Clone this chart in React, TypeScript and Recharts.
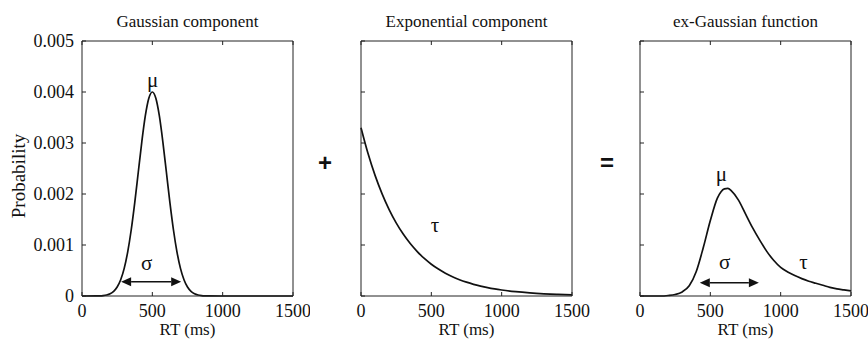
import React from 'react';
import { LineChart, Line, XAxis, YAxis, ReferenceLine, ReferenceDot } from 'recharts';

// ---- data ----
const xTicks = [0, 500, 1000, 1500];
const yTicks = [0, 0.001, 0.002, 0.003, 0.004, 0.005];

const gaussX = [0, 100, 125, 150, 175, 200, 225, 250, 275, 300, 325, 350, 375, 400, 425, 450, 475, 500, 525, 550, 575, 600, 625, 650, 675, 700, 725, 750, 775, 800, 825, 850, 875, 900, 1000, 1500];
const gaussY = [0, 0.0000013, 0.0000035, 0.0000087, 0.0000203, 0.0000444, 0.0000913, 0.000176, 0.000318, 0.000541, 0.000866, 0.001299, 0.001831, 0.002426, 0.003019, 0.00353, 0.003877, 0.004, 0.003877, 0.00353, 0.003019, 0.002426, 0.001831, 0.001299, 0.000866, 0.000541, 0.000318, 0.000176, 0.0000913, 0.0000444, 0.0000203, 0.0000087, 0.0000035, 0.0000013, 0, 0];

const expX = [0, 50, 100, 150, 200, 250, 300, 350, 400, 450, 500, 550, 600, 650, 700, 750, 800, 850, 900, 950, 1000, 1100, 1200, 1300, 1400, 1500];
const expY = [0.0033, 0.002793, 0.002365, 0.002002, 0.001694, 0.001434, 0.001214, 0.001028, 0.00087, 0.000736, 0.000623, 0.000528, 0.000447, 0.000378, 0.00032, 0.000271, 0.000229, 0.000194, 0.000164, 0.000139, 0.000118, 0.0000843, 0.0000604, 0.0000433, 0.000031, 0.0000222];

const exgX = [0, 100, 150, 200, 250, 300, 350, 400, 450, 500, 550, 575, 600, 625, 650, 700, 750, 800, 850, 900, 950, 1000, 1050, 1100, 1150, 1200, 1250, 1300, 1350, 1400, 1450, 1500];
const exgY = [0, 0, 0, 0.00001, 0.00003, 0.00008, 0.0002, 0.00048, 0.00095, 0.00148, 0.00192, 0.00204, 0.0021, 0.00211, 0.00206, 0.00188, 0.00161, 0.00134, 0.0011, 0.00088, 0.0007, 0.00056, 0.00047, 0.0004, 0.00034, 0.00029, 0.00025, 0.00021, 0.00017, 0.00014, 0.00012, 0.0001];

const titles = ['Gaussian component', 'Exponential component', 'ex-Gaussian function'];
const xLabel = 'RT (ms)';
const yLabel = 'Probability';

const toRows = (xs: number[], ys: number[]) => xs.map((x, i) => ({ x, y: ys[i] }));
const gaussData = toRows(gaussX, gaussY);
const expData = toRows(expX, expY);
const exgData = toRows(exgX, exgY);

// ---- styling ----
const INK = '#111';
const BOX = '#222';
const FONT = 'Liberation Serif, Times New Roman, serif';
const FS = 17;
const TICK_FS = 18;

const fmtY = (v: number) => (v === 0 ? '0' : v.toFixed(3));

const BottomTick = (p: any) => (
  <g>
    <line x1={p.x} x2={p.x} y1={p.y} y2={p.y - 4} stroke={BOX} strokeWidth={1} />
    <text x={p.x} y={p.y + 21} textAnchor="middle" fontFamily={FONT} fontSize={TICK_FS} fill={INK}>
      {p.payload.value}
    </text>
  </g>
);
const TopTick = (p: any) => (
  <line x1={p.x} x2={p.x} y1={p.y} y2={p.y + 4} stroke={BOX} strokeWidth={1} />
);
const LeftTickLabeled = (p: any) => (
  <g>
    <line x1={p.x} x2={p.x + 4} y1={p.y} y2={p.y} stroke={BOX} strokeWidth={1} />
    <text x={p.x - 8} y={p.y} dy="0.35em" textAnchor="end" fontFamily={FONT} fontSize={TICK_FS} fill={INK}>
      {fmtY(p.payload.value)}
    </text>
  </g>
);
const LeftTick = (p: any) => (
  <line x1={p.x} x2={p.x + 4} y1={p.y} y2={p.y} stroke={BOX} strokeWidth={1} />
);
const RightTick = (p: any) => (
  <line x1={p.x} x2={p.x - 4} y1={p.y} y2={p.y} stroke={BOX} strokeWidth={1} />
);

const Arrow = (p: any) => {
  const { x1, y1, x2, y2 } = p;
  const h = 10;
  const w = 4.5;
  return (
    <g>
      <line x1={x1 + h} y1={y1} x2={x2 - h} y2={y2} stroke={INK} strokeWidth={1.4} />
      <polygon points={`${x1},${y1} ${x1 + h},${y1 - w} ${x1 + h},${y1 + w}`} fill={INK} />
      <polygon points={`${x2},${y2} ${x2 - h},${y2 - w} ${x2 - h},${y2 + w}`} fill={INK} />
    </g>
  );
};

const symLabel = (value: string) => ({
  value,
  position: 'center' as const,
  fontFamily: FONT,
  fontSize: 21,
  fill: INK,
});

const H = 341;
const AX_W = 40; // left y-axis width
const AX_R = 10; // right y-axis width
const AX_H = 30; // x-axis heights

function Panel(props: {
  left: number;
  width: number;
  plotLeft: number;
  plotRightGap: number;
  data: { x: number; y: number }[];
  title: string;
  labeled: boolean;
  children?: React.ReactNode;
}) {
  const { left, width, plotLeft, plotRightGap, data, title, labeled } = props;
  return (
    <div style={{ position: 'absolute', left, top: 0 }}>
      <LineChart
        width={width}
        height={H}
        data={data}
        margin={{ top: 41 - AX_H, bottom: 45 - AX_H, left: plotLeft - AX_W, right: plotRightGap - AX_R }}
      >
        <XAxis
          dataKey="x"
          type="number"
          domain={[0, 1500]}
          ticks={xTicks}
          height={AX_H}
          tickSize={0}
          tickMargin={0}
          tickLine={false}
          axisLine={{ stroke: BOX, strokeWidth: 1 }}
          tick={BottomTick}
          interval={0}
          label={{ value: xLabel, position: 'bottom', offset: -3, fontFamily: FONT, fontSize: FS, fill: INK }}
        />
        <XAxis
          xAxisId="t"
          orientation="top"
          dataKey="x"
          type="number"
          domain={[0, 1500]}
          ticks={xTicks}
          height={AX_H}
          tickSize={0}
          tickMargin={0}
          tickLine={false}
          axisLine={{ stroke: BOX, strokeWidth: 1 }}
          tick={TopTick}
          interval={0}
          label={{ value: title, position: 'top', offset: -16, fontFamily: FONT, fontSize: FS, fill: INK }}
        />
        <YAxis
          type="number"
          domain={[0, 0.005]}
          ticks={yTicks}
          width={AX_W}
          tickSize={0}
          tickMargin={0}
          tickLine={false}
          axisLine={{ stroke: BOX, strokeWidth: 1 }}
          tick={labeled ? LeftTickLabeled : LeftTick}
          interval={0}
        />
        <YAxis
          yAxisId="r"
          orientation="right"
          type="number"
          domain={[0, 0.005]}
          ticks={yTicks}
          width={AX_R}
          tickSize={0}
          tickMargin={0}
          tickLine={false}
          axisLine={{ stroke: BOX, strokeWidth: 1 }}
          tick={RightTick}
          interval={0}
        />
        <Line
          type="monotone"
          dataKey="y"
          stroke={INK}
          strokeWidth={1.7}
          dot={false}
          activeDot={false}
          isAnimationActive={false}
        />
        {props.children}
      </LineChart>
    </div>
  );
}

export default function App() {
  return (
    <div
      style={{
        position: 'absolute',
        left: 0,
        top: 0,
        width: 868,
        height: H,
        background: '#fff',
        overflow: 'hidden',
      }}
    >
      <Panel left={0} width={310} plotLeft={82} plotRightGap={17} data={gaussData} title={titles[0]} labeled>
        <ReferenceDot x={503} y={0.00424} r={0} fill="none" stroke="none" label={symLabel('μ')} />
        <ReferenceDot x={460} y={0.00065} r={0} fill="none" stroke="none" label={symLabel('σ')} />
        <ReferenceLine
          segment={[
            { x: 278, y: 0.00028 },
            { x: 705, y: 0.00028 },
          ]}
          shape={Arrow}
        />
      </Panel>
      <Panel left={320} width={270} plotLeft={41} plotRightGap={18} data={expData} title={titles[1]} labeled={false}>
        <ReferenceDot x={526} y={0.0014} r={0} fill="none" stroke="none" label={symLabel('τ')} />
      </Panel>
      <Panel left={600} width={268} plotLeft={40} plotRightGap={17} data={exgData} title={titles[2]} labeled={false}>
        <ReferenceDot x={579} y={0.00241} r={0} fill="none" stroke="none" label={symLabel('μ')} />
        <ReferenceDot x={602} y={0.00067} r={0} fill="none" stroke="none" label={symLabel('σ')} />
        <ReferenceDot x={1162} y={0.00067} r={0} fill="none" stroke="none" label={symLabel('τ')} />
        <ReferenceLine
          segment={[
            { x: 425, y: 0.00026 },
            { x: 845, y: 0.00026 },
          ]}
          shape={Arrow}
        />
      </Panel>
      <svg width={868} height={H} style={{ position: 'absolute', left: 0, top: 0, pointerEvents: 'none' }}>
        <text
          x={18}
          y={176}
          transform="rotate(-90 18 176)"
          textAnchor="middle"
          dy="0.35em"
          fontFamily={FONT}
          fontSize={19}
          fill={INK}
        >
          {yLabel}
        </text>
        <text x={325} y={163} dy="0.35em" textAnchor="middle" fontFamily="Liberation Sans, Arial, sans-serif" fontWeight="bold" fontSize={24} fill={INK}>
          +
        </text>
        <text x={607} y={163} dy="0.35em" textAnchor="middle" fontFamily="Liberation Sans, Arial, sans-serif" fontWeight="bold" fontSize={24} fill={INK}>
          =
        </text>
      </svg>
    </div>
  );
}
